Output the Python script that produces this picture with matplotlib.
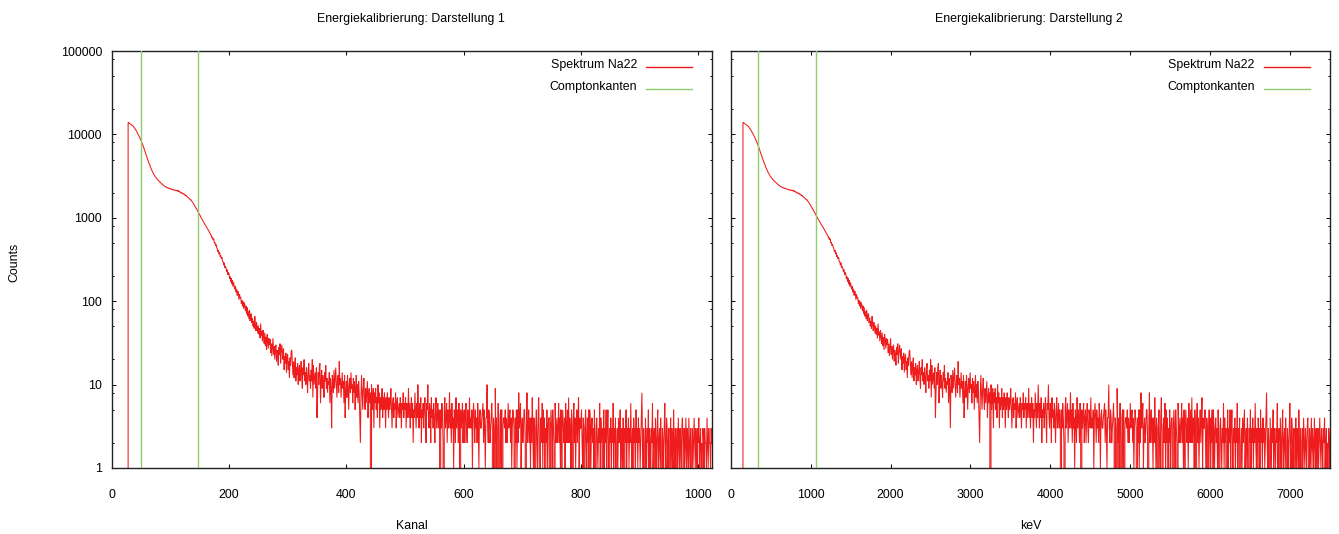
import numpy as np
import matplotlib
matplotlib.use("Agg")
import matplotlib.pyplot as plt
from matplotlib.lines import Line2D
from matplotlib.ticker import FixedLocator, LogLocator, NullLocator, FuncFormatter

# --- Messdaten: Na22-Spektrum, Counts pro Kanal (ab Kanal 27) ---------------
first_channel = 27

counts_peak = [
    0,
    13900, 13820, 13640, 13510, 13290, 13140, 12960, 12830, 12640, 12480, 12190, 11920,
    11600, 11330, 11010, 10720, 10360, 10050, 9700, 9400, 9070, 8800,
    8470, 8180, 7820, 7500, 7140, 6840, 6500, 6210, 5890, 5620,
    5310, 5090, 4850, 4660, 4430, 4280, 4070, 3920, 3770, 3660,
    3510, 3420, 3300, 3230, 3120, 3070, 2980, 2940, 2870, 2830,
    2770, 2740, 2690, 2660, 2600, 2580, 2520, 2510, 2450, 2440,
    2390, 2380, 2340, 2340, 2300, 2310, 2270, 2280, 2240, 2250,
    2220, 2230, 2190, 2200, 2170, 2180, 2140, 2170, 2130, 2150,
    2110, 2130, 2090, 2150, 2060, 2080, 2030, 2040, 1990, 2000,
    1960, 1980, 1930, 1940, 1880, 1900, 1840, 1860, 1800, 1790,
    1760, 1740, 1700, 1690, 1640, 1650, 1600, 1570, 1530, 1500,
    1450, 1420, 1370, 1340, 1290, 1270, 1220, 1190, 1150, 1120,
    1080, 1060, 1020, 990, 960, 940, 900, 880, 860, 830,
    810, 790, 770, 740, 730, 700, 690, 660, 650, 620,
    612, 570, 583, 541, 560, 498, 509, 462, 478, 441,
    428, 392, 410, 366, 384, 340, 352, 322, 336, 301,
    298, 270, 289, 251, 262, 248, 226, 239, 208, 221,
]

counts_shoulder = [
    212, 186, 197, 171, 189, 160, 178, 151, 168, 148,
    139, 152, 128, 140, 117, 133, 124, 104, 121, 109,
    112, 94, 103, 87, 99, 81, 96, 90, 76, 88,
    70, 84, 66, 75, 61, 79, 58, 68, 71, 55,
    63, 50, 58, 47, 66, 52, 44, 56, 49, 41,
    51, 40, 47, 36, 54, 39, 43, 33, 45, 38,
    31, 42, 29, 37, 26, 40, 34, 27, 36, 30,
    35, 24, 31, 22, 28, 36, 23, 29, 20, 27,
    30, 19, 26, 22, 17, 28, 23, 31, 18, 24,
    30, 25, 20, 27, 15, 22, 18, 24, 14, 21,
    23, 15, 19, 12, 21, 17, 25, 26, 18, 13,
    19, 12, 17, 21, 11, 16, 13, 18, 10, 15,
    17, 11, 14, 19, 12, 9, 16, 13, 20, 11,
    14, 10, 16, 12, 8, 15, 18, 11, 13, 9,
    15, 11, 20, 7, 17, 10, 12, 14, 9, 16,
    4, 8, 14, 10, 16, 18, 6, 11, 15, 9,
    13, 10, 7, 14, 11, 17, 9, 12, 8, 11,
    10, 14, 6, 12, 9, 3, 13, 11, 8, 15,
    9, 12, 16, 10, 7, 11, 13, 8, 19, 10,
    12, 7, 10, 14, 9, 11, 6, 13, 4, 8,
]

counts_tail = [
    11, 7, 13, 9, 5, 10, 12, 8, 14, 9,
    10, 6, 12, 8, 11, 5, 9, 13, 7, 10,
    6, 11, 8, 4, 2, 7, 13, 8, 5, 9,
    12, 7, 5, 9, 6, 8, 11, 4, 7, 9,
    6, 8, 0, 10, 5, 7, 9, 3, 8, 6,
    9, 5, 7, 4, 10, 6, 8, 3, 7, 5,
    6, 9, 4, 7, 5, 8, 6, 3, 7, 5,
    8, 6, 4, 7, 5, 6, 9, 5, 3, 6,
    7, 4, 6, 5, 8, 3, 6, 7, 4, 5,
    6, 4, 7, 5, 3, 6, 5, 8, 4, 6,
    5, 7, 3, 6, 4, 5, 9, 4, 6, 3,
    5, 7, 4, 6, 2, 5, 4, 8, 5, 3,
    6, 4, 10, 5, 3, 6, 4, 7, 2, 5,
    4, 6, 3, 5, 7, 4, 2, 6, 5, 10,
    4, 3, 6, 5, 2, 7, 4, 5, 3, 6,
    4, 2, 5, 7, 3, 4, 6, 3, 5, 4,
    0, 5, 3, 6, 4, 2, 0, 5, 7, 3,
    4, 6, 2, 5, 3, 4, 8, 3, 5, 2,
    6, 3, 4, 1, 5, 4, 2, 7, 3, 5,
    4, 2, 6, 3, 0, 5, 3, 4, 6, 2,
    4, 5, 2, 4, 6, 3, 2, 5, 4, 3,
    7, 3, 4, 3, 5, 1, 4, 6, 4, 2,
    5, 3, 4, 2, 6, 4, 1, 4, 5, 3,
    3, 4, 5, 6, 2, 5, 3, 1, 4, 4,
    10, 3, 2, 5, 4, 2, 3, 4, 6, 3,
    0, 4, 3, 0, 9, 2, 4, 0, 3, 6,
    2, 0, 4, 5, 1, 5, 0, 3, 4, 4,
    3, 5, 2, 4, 2, 3, 6, 3, 4, 5,
    2, 4, 1, 3, 5, 4, 3, 0, 4, 2,
    5, 1, 5, 2, 8, 3, 4, 6, 1, 3,
    4, 2, 3, 5, 5, 2, 0, 3, 8, 2,
    3, 5, 2, 4, 1, 4, 2, 7, 3, 1,
    4, 3, 0, 3, 5, 2, 1, 4, 7, 2,
    0, 3, 4, 2, 6, 1, 5, 2, 4, 0,
    3, 2, 5, 1, 3, 4, 4, 0, 3, 5,
    3, 1, 5, 3, 2, 0, 6, 3, 2, 4,
    2, 3, 6, 2, 4, 1, 5, 0, 3, 5,
    3, 2, 4, 1, 6, 3, 2, 5, 2, 7,
    2, 4, 3, 1, 5, 3, 0, 4, 6, 2,
    4, 1, 3, 5, 2, 4, 7, 1, 4, 3,
    3, 5, 2, 1, 4, 3, 0, 3, 5, 2,
    1, 4, 2, 5, 0, 5, 3, 1, 3, 4,
    2, 3, 1, 5, 2, 0, 3, 4, 2, 1,
    3, 2, 6, 1, 4, 2, 3, 0, 2, 5,
    1, 3, 2, 5, 1, 3, 5, 2, 0, 3,
    2, 4, 1, 3, 2, 6, 1, 3, 2, 4,
    0, 2, 3, 1, 4, 2, 3, 5, 1, 2,
    3, 1, 4, 2, 0, 3, 2, 5, 1, 3,
    2, 4, 1, 3, 2, 6, 2, 1, 3, 0,
    4, 2, 3, 1, 5, 2, 3, 1, 4, 2,
    3, 1, 2, 4, 8, 2, 1, 3, 2, 0,
    4, 2, 1, 3, 2, 5, 1, 3, 2, 1,
    3, 2, 6, 1, 2, 3, 0, 4, 2, 1,
    3, 5, 1, 2, 3, 1, 4, 2, 0, 3,
    2, 1, 3, 6, 2, 1, 4, 3, 1, 2,
    3, 0, 2, 4, 1, 3, 2, 1, 5, 2,
    1, 3, 2, 0, 3, 1, 4, 2, 1, 3,
    2, 1, 3, 4, 2, 0, 3, 1, 2, 4,
    1, 3, 2, 1, 4, 2, 1, 3, 0, 2,
    3, 1, 2, 4, 2, 1, 3, 2, 1, 3,
    2, 4, 1, 2, 3, 1, 2, 0, 3, 2,
    1, 3, 2, 2, 1, 4, 2, 1, 3, 2,
    2, 1, 3, 2,
]

# Comptonkanten (Kanal bzw. Energie) und lineare Energiekalibrierung
compton_channels = [50, 147]
compton_kev = [341, 1062]
kal_slope = 7.48     # keV pro Kanal
kal_offset = -56.0   # keV

panel_titles = ["Energiekalibrierung: Darstellung 1", "Energiekalibrierung: Darstellung 2"]
x_labels = ["Kanal", "keV"]
x_ticks_kanal = [0, 200, 400, 600, 800, 1000]
x_ticks_kev = [0, 1000, 2000, 3000, 4000, 5000, 6000, 7000]
x_limits = [(0, 1024), (0, 7500)]
y_ticks = [1, 10, 100, 1000, 10000, 100000]
y_label = "Counts"
legend_labels = ["Spektrum Na22", "Comptonkanten"]

# --- Darstellung --------------------------------------------------------------
RED = "#ee1c1c"
GREEN = "#8fcc6c"
FONT = ["Liberation Sans", "DejaVu Sans"]
FS = 8.9

plt.rcParams["font.family"] = FONT
plt.rcParams["font.size"] = FS

counts = np.array(counts_peak + counts_shoulder + counts_tail, dtype=float)
kanal = first_channel + np.arange(counts.size)
energie = kal_slope * kanal + kal_offset

W, H = 1339, 534
fig = plt.figure(figsize=(W / 100, H / 100), dpi=100)


def box(x0, x1, y0, y1):
    return [x0 / W, 1 - y1 / H, (x1 - x0) / W, (y1 - y0) / H]


ax1 = fig.add_axes(box(111.7, 712.3, 51, 468))
ax2 = fig.add_axes(box(730.7, 1330.0, 51, 468))

panels = [
    (ax1, kanal, compton_channels, x_ticks_kanal),
    (ax2, energie, compton_kev, x_ticks_kev),
]

for i, (ax, xdata, edges, xticks) in enumerate(panels):
    ax.plot(xdata, counts, color=RED, lw=0.75, zorder=2, solid_joinstyle="miter")
    for e in edges:
        ax.axvline(e, color=GREEN, lw=1.0, zorder=3)

    ax.set_yscale("log", nonpositive="clip")
    ax.set_ylim(y_ticks[0], y_ticks[-1])
    ax.set_xlim(*x_limits[i])

    ax.xaxis.set_major_locator(FixedLocator(xticks))
    ax.xaxis.set_minor_locator(NullLocator())
    ax.yaxis.set_major_locator(FixedLocator(y_ticks))
    ax.yaxis.set_minor_locator(LogLocator(base=10, subs=[2, 5, 8]))
    ax.yaxis.set_major_formatter(FuncFormatter(lambda v, _: f"{int(round(v))}"))

    ax.tick_params(which="both", direction="in", top=True, right=True,
                   width=0.7, color="black", labelsize=FS)
    ax.tick_params(which="major", length=3.0)
    ax.tick_params(which="minor", length=1.6)
    ax.tick_params(axis="x", pad=15)
    ax.tick_params(axis="y", pad=7, labelleft=(i == 0))
    for sp in ax.spines.values():
        sp.set_linewidth(1.0)
        sp.set_color("#222222")

    # Legende (Text rechtsbündig, Linienmuster rechts daneben)
    ax_box = ax.get_position()
    for label, color, ypx in zip(legend_labels, [RED, GREEN], [66.5, 88.5]):
        ay = 1 - (ypx - (1 - ax_box.y1) * H) / (ax_box.height * H)
        ax.text(0.8746, ay + 0.004, label, transform=ax.transAxes,
                ha="right", va="center", fontsize=FS)
        ax.add_line(Line2D([0.8896, 0.9662], [ay, ay], transform=ax.transAxes,
                           color=color, lw=1.0))

    # Titel und Achsenbeschriftung
    cx = (ax_box.x0 + ax_box.x1) / 2
    fig.text(cx - 0.001, 1 - 19 / H, panel_titles[i], ha="center", va="center", fontsize=FS)
    fig.text(cx, 1 - 526 / H, x_labels[i], ha="center", va="center", fontsize=FS)

fig.text(14 / W, 1 - 262 / H, y_label, rotation=90, ha="center", va="center", fontsize=FS)

fig.savefig("out.png", dpi=100)
